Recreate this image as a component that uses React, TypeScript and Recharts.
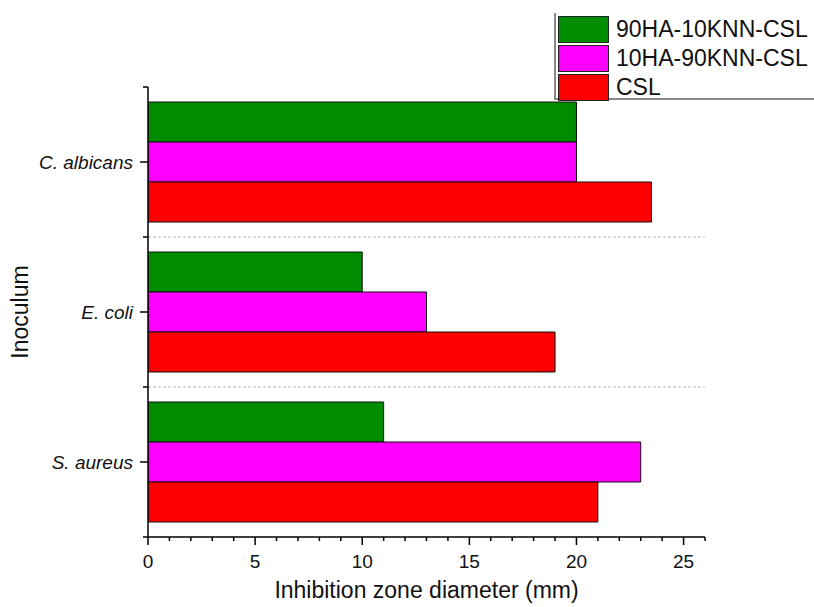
import * as React from "react";
import {
  BarChart,
  Bar,
  XAxis,
  YAxis,
  ReferenceLine,
  Legend,
} from "recharts";

const categories = ["C. albicans", "E. coli", "S. aureus"];
const ha90 = [20, 10, 11];
const ha10 = [20, 13, 23];
const csl = [23.5, 19, 21];
const xTicks = Array.from({ length: 27 }, (_, i) => i);
const yTicks = [0, 0.5, 1, 1.5, 2, 2.5, 3];
const separators = [1, 2];

const seriesNames = ["90HA-10KNN-CSL", "10HA-90KNN-CSL", "CSL"];
const seriesColors = ["#008C00", "#FF00FF", "#FF0000"];

const data = categories.map((name, i) => ({
  name,
  pos: i + 0.5,
  ha90: ha90[i],
  ha10: ha10[i],
  csl: csl[i],
}));

const FONT = "'Liberation Sans', Arial, sans-serif";

const XTick = (props: any) => {
  const { x, y, payload } = props;
  const major = payload.value % 5 === 0;
  return (
    <g>
      <line x1={x} x2={x} y1={y} y2={y + (major ? 8 : 4)} stroke="#000" strokeWidth={1.5} />
      {major && payload.value <= 25 && (
        <text x={x} y={y + 31} textAnchor="middle" fontSize={19} fill="#111" fontFamily={FONT}>
          {payload.value}
        </text>
      )}
    </g>
  );
};

const YTick = (props: any) => {
  const { x, y, payload } = props;
  const v = payload.value;
  const labelled = v % 1 !== 0;
  const idx = Math.floor(v);
  return (
    <g>
      <line x1={x} x2={x - (labelled ? 8 : 5)} y1={y} y2={y} stroke="#000" strokeWidth={1.5} />
      {labelled && (
        <text
          x={x - 15}
          y={y}
          dy="0.35em"
          textAnchor="end"
          fontSize={19}
          fontStyle="italic"
          fill="#111"
          fontFamily={FONT}
        >
          {categories[idx]}
        </text>
      )}
    </g>
  );
};

const LegendBox = (props: any) => {
  const items = [...(props.payload || [])].sort(
    (a: any, b: any) => seriesNames.indexOf(a.value) - seriesNames.indexOf(b.value)
  );
  return (
    <div
      style={{
        borderLeft: "2px solid #888",
        borderBottom: "2px solid #888",
        height: 87,
        paddingTop: 2,
        paddingLeft: 2,
        boxSizing: "border-box",
        fontFamily: FONT,
      }}
    >
      {items.map((it: any) => (
        <div key={it.value} style={{ display: "flex", alignItems: "center", height: 29 }}>
          <div
            style={{
              width: 51,
              height: 27,
              background: it.color,
              border: "1px solid #222",
              boxSizing: "border-box",
            }}
          />
          <span style={{ marginLeft: 7, fontSize: 23, color: "#111", lineHeight: "29px" }}>
            {it.value}
          </span>
        </div>
      ))}
    </div>
  );
};

export default function App() {
  return (
    <div style={{ position: "absolute", left: 0, top: 0, background: "#fff" }}>
      <BarChart
        width={814}
        height={607}
        data={data}
        layout="vertical"
        margin={{ top: 87, right: 109, left: 0, bottom: 0 }}
        barCategoryGap="10%"
        barGap={0}
      >
        <XAxis
          type="number"
          domain={[0, 26]}
          ticks={xTicks}
          interval={0}
          height={70}
          tickSize={0}
          tickMargin={0}
          tickLine={false}
          tick={<XTick />}
          axisLine={{ stroke: "#000", strokeWidth: 1.5 }}
          allowDataOverflow
          label={(p: any) => {
            const vb = p.viewBox;
            return (
              <text
                x={vb.x + vb.width / 2}
                y={vb.y + 61}
                textAnchor="middle"
                fontSize={23}
                fill="#111"
                fontFamily={FONT}
              >
                Inhibition zone diameter (mm)
              </text>
            );
          }}
        />
        <YAxis yAxisId="cat" type="category" dataKey="name" orientation="right" width={0} hide />
        <YAxis
          yAxisId="num"
          type="number"
          dataKey="pos"
          domain={[0, 3]}
          allowDataOverflow
          ticks={yTicks}
          interval={0}
          width={148}
          tickSize={0}
          tickMargin={0}
          tickLine={false}
          tick={<YTick />}
          axisLine={{ stroke: "#000", strokeWidth: 1.5 }}
          label={(p: any) => {
            const vb = p.viewBox;
            const cy = vb.y + vb.height / 2;
            return (
              <text
                x={28}
                y={cy}
                transform={`rotate(-90 28 ${cy})`}
                textAnchor="middle"
                fontSize={23}
                fill="#111"
                fontFamily={FONT}
              >
                Inoculum
              </text>
            );
          }}
        />
        {separators.map((s) => (
          <ReferenceLine key={s} yAxisId="num" y={s} stroke="#bbb" strokeDasharray="3 2" />
        ))}
        <Legend
          layout="vertical"
          align="center"
          verticalAlign="middle"
          content={<LegendBox />}
          wrapperStyle={{ top: 13, left: 554, width: 260, height: 87 }}
        />
        <Bar yAxisId="cat" dataKey="ha90" name={seriesNames[0]} fill={seriesColors[0]} stroke="#111" strokeWidth={1} isAnimationActive={false} />
        <Bar yAxisId="cat" dataKey="ha10" name={seriesNames[1]} fill={seriesColors[1]} stroke="#111" strokeWidth={1} isAnimationActive={false} />
        <Bar yAxisId="cat" dataKey="csl" name={seriesNames[2]} fill={seriesColors[2]} stroke="#111" strokeWidth={1} isAnimationActive={false} />
      </BarChart>
    </div>
  );
}
